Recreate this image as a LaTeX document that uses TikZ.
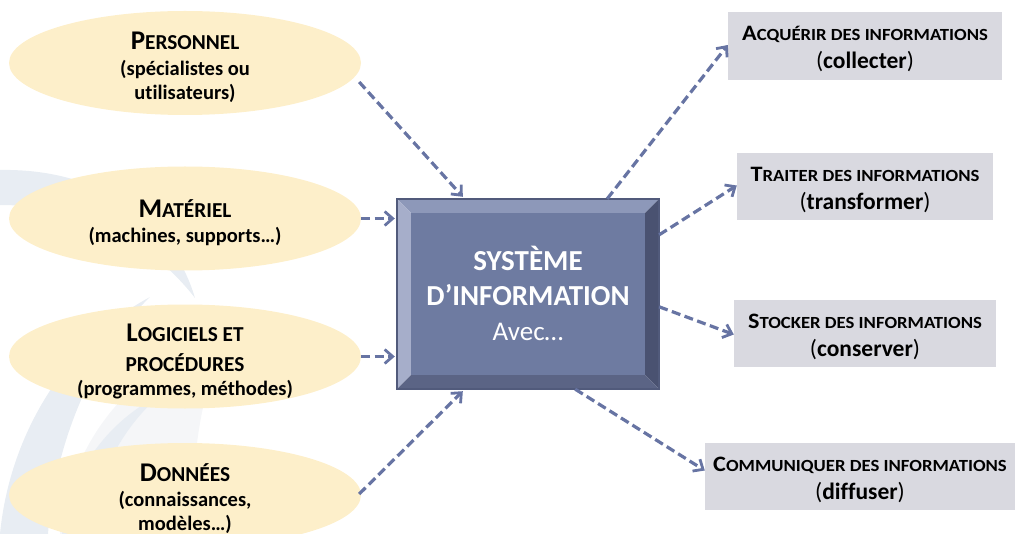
\documentclass[tikz,border=0pt]{standalone}
\usepackage{fontspec}
\setmainfont{Carlito}[Ligatures=NoCommon]
\usetikzlibrary{arrows.meta,calc,shapes.geometric}
\definecolor{ellfill}{HTML}{FDEFCA}
\definecolor{boxfill}{HTML}{D9D9E0}
\definecolor{arrcol}{HTML}{6774A3}
\definecolor{face}{HTML}{6E7BA1}
\definecolor{bevtop}{HTML}{8D98B9}
\definecolor{bevleft}{HTML}{A6AECA}
\definecolor{bevright}{HTML}{4A5271}
\definecolor{bevbot}{HTML}{5B6485}
\definecolor{bevline}{HTML}{515A7B}
\definecolor{swirlA}{HTML}{E8EDF3}
\definecolor{swirlB}{HTML}{F5F6F8}
\newcommand\scL[2]{{\fontsize{27}{30}\selectfont #1}{\fontsize{21.3}{30}\selectfont #2}}
\newcommand\scR[2]{{\addfontfeatures{FakeStretch=1.1}{\fontsize{22}{24}\selectfont #1}{\fontsize{17}{24}\selectfont #2}}}
\tikzset{
  ell/.style={ellipse, fill=ellfill, minimum width=352pt, minimum height=104pt, inner sep=0pt},
  elltext/.style={align=center, inner sep=0pt, font=\bfseries\fontsize{20.5}{24}\selectfont},
  rbox/.style={rectangle, fill=boxfill, inner sep=0pt},
  rtext/.style={align=center, inner sep=0pt, font=\bfseries\fontsize{23.5}{28}\selectfont},
  arr/.style={draw=arrcol, line width=3.2pt, dash pattern=on 9pt off 4.5pt,
    -{Straight Barb[length=8pt,width=14pt,line width=2.8pt]}},
}
\begin{document}
\begin{tikzpicture}[x=1pt,y=-1pt]
\useasboundingbox (0,0) rectangle (1016,534);
% background swirl
\fill[swirlA] (0,170) .. controls (110,168) and (175,230) .. (195,298)
  .. controls (150,240) and (80,205) .. (0,205) -- cycle;
\fill[swirlB] (60,534) .. controls (75,420) and (150,360) .. (230,330)
  .. controls (200,390) and (190,460) .. (195,534) -- cycle;
\fill[swirlA] (0,534) .. controls (10,430) and (70,340) .. (150,297)
  .. controls (95,350) and (55,440) .. (48,534) -- cycle;
\fill[swirlA] (62,534) .. controls (70,470) and (110,420) .. (160,395)
  .. controls (120,430) and (95,480) .. (90,534) -- cycle;
% left ellipses
\node[ell] (pers) at (185,63) {};
\node[ell] (mat) at (185,218.5) {};
\node[ell] (log) at (185,356.5) {};
\node[ell] (don) at (185,495) {};
\node[elltext] (perst) at ($(pers)+(0,4)$) {\scL{P}{ERSONNEL}\\[2pt](spécialistes ou\\utilisateurs)};
\node[elltext] (matt) at ($(mat)+(0,4)$) {\scL{M}{ATÉRIEL}\\[1pt](machines, supports…)};
\node[elltext] (logt) at ($(log)+(0,5)$) {\scL{L}{OGICIELS ET}\\[6pt]{\fontsize{21.3}{30}\selectfont PROCÉDURES}\\(programmes, méthodes)};
\node[elltext] (dont) at ($(don)+(0,4)$) {\scL{D}{ONNÉES}\\[1pt](connaissances,\\modèles…)};
% central bevelled box
\node[rectangle, minimum width=262pt, minimum height=190pt, inner sep=0pt] (si) at (528,294) {};
\fill[face] ($(si.north west)+(14,14)$) rectangle ($(si.south east)+(-14,-14)$);
\fill[bevtop] (si.north west) -- (si.north east) -- ++(-14,14) -- ($(si.north west)+(14,14)$) -- cycle;
\fill[bevleft] (si.north west) -- ($(si.north west)+(14,14)$) -- ($(si.south west)+(14,-14)$) -- (si.south west) -- cycle;
\fill[bevright] (si.north east) -- (si.south east) -- ($(si.south east)+(-14,-14)$) -- ($(si.north east)+(-14,14)$) -- cycle;
\fill[bevbot] (si.south west) -- (si.south east) -- ($(si.south east)+(-14,-14)$) -- ($(si.south west)+(14,-14)$) -- cycle;
\draw[bevline, line width=2pt] (si.north west) rectangle (si.south east);
\node[align=center, text=white, font=\bfseries\fontsize{29}{35}\selectfont] (sit) at ($(si.center)+(0,-1)$)
  {SYSTÈME\\D’INFORMATION\\{\mdseries\fontsize{27}{33}\selectfont Avec…}};
% right boxes
\node[rbox, minimum width=274pt, minimum height=68pt] (acq) at (865,46) {};
\node[rbox, minimum width=256pt, minimum height=67pt] (trt) at (865,186.5) {};
\node[rbox, minimum width=262pt, minimum height=67pt] (sto) at (865,333.5) {};
\node[rbox, minimum width=310pt, minimum height=67pt] (com) at (860,476.5) {};
\node[rtext] (acqt) at ($(acq)+(0,3)$) {\scR{A}{CQUÉRIR DES INFORMATIONS}\\{\mdseries(}collecter{\mdseries)}};
\node[rtext] (trtt) at ($(trt)+(0,3)$) {\scR{T}{RAITER DES INFORMATIONS}\\{\mdseries(}transformer{\mdseries)}};
\node[rtext] (stot) at ($(sto)+(0,3)$) {\scR{S}{TOCKER DES INFORMATIONS}\\{\mdseries(}conserver{\mdseries)}};
\node[rtext] (comt) at ($(com)+(0,3)$) {\scR{C}{OMMUNIQUER DES INFORMATIONS}\\{\mdseries(}diffuser{\mdseries)}};
% arrows
\draw[arr] ($(pers.east)+(-2,19)$) -- ($(si.north west)+(66,-2)$);
\draw[arr] (mat.east) -- ($(mat.east -| si.west)+(-2,0)$);
\draw[arr] (log.east) -- ($(log.east -| si.west)+(-2,0)$);
\draw[arr] ($(don.east)+(-2,-1)$) -- ($(si.south west)+(66,2)$);
\draw[arr] ($(si.north east)+(-52,0)$) -- ($(acq.west)+(0,-1)$);
\draw[arr] ($(si.north east)+(0,36)$) -- ($(trt.west)+(0,-1)$);
\draw[arr] ($(si.north east)+(0,108)$) -- ($(sto.west)+(0,1)$);
\draw[arr] ($(si.south east)+(-84,0)$) -- ($(com.west)+(0,-6)$);
\end{tikzpicture}
\end{document}
